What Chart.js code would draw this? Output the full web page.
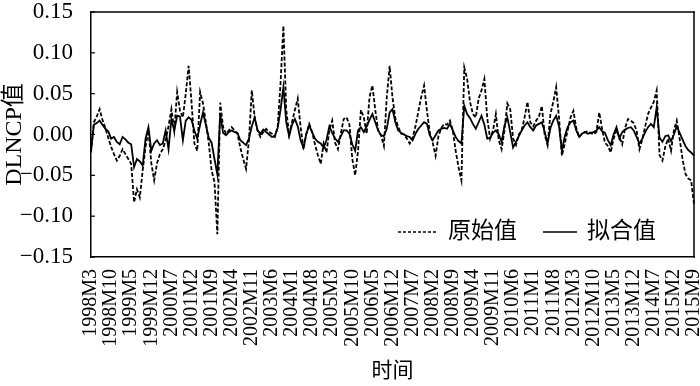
<!DOCTYPE html>
<html>
<head>
<meta charset="utf-8">
<script src="https://cdn.jsdelivr.net/npm/chart.js@4.4.1/dist/chart.umd.min.js"></script>
<style>
  html, body { margin: 0; padding: 0; background: #fff; }
  canvas { display: block; }
</style>
</head>
<body>
<canvas id="chartDLNCP" width="700" height="386"></canvas>
<script>
// months 1998M3 .. 2015M9 (211 obs), a label every 7 months
const months = [];
for (let y = 1998, m = 3; y < 2015 || (y === 2015 && m <= 9); m++) {
    if (m > 12) { m = 1; y++; }
    months.push(y + "M" + m);
}

// 原始值 (dashed)
const original = [
    -0.022, 0.015, 0.022, 0.031, 0.018, 0.008, -0.004, -0.015, -0.024, -0.032,
    -0.026, -0.018, -0.024, -0.030, -0.036, -0.083, -0.067, -0.077, -0.044, -0.015,
    0.005, -0.035, -0.056, -0.035, -0.024, -0.018, -0.007, 0.010, 0.031, 0.005,
    0.052, 0.029, 0.021, 0.050, 0.084, 0.040, -0.011, -0.020, 0.052, 0.038,
    0.015, -0.010, -0.044, -0.058, -0.122, 0.039, 0.009, 0.001, 0.005, 0.009,
    0.005, 0.001, -0.016, -0.030, -0.042, -0.007, 0.054, 0.021, 0.005, -0.003,
    0.003, 0.007, 0.003, 0.001, -0.003, 0.009, 0.062, 0.133, 0.030, 0.000,
    0.015, 0.030, 0.044, 0.009, -0.018, 0.001, 0.013, 0.003, -0.012, -0.025,
    -0.036, -0.011, -0.022, 0.005, 0.017, -0.010, -0.018, 0.001, 0.019, 0.021,
    0.012, -0.030, -0.050, -0.020, 0.030, 0.021, 0.001, 0.046, 0.060, 0.030,
    0.005, -0.001, -0.014, 0.045, 0.084, 0.045, 0.020, 0.009, 0.001, 0.000,
    -0.005, -0.011, -0.004, 0.010, 0.028, 0.046, 0.060, 0.029, 0.002, -0.010,
    -0.026, -0.002, 0.008, 0.013, 0.012, 0.017, 0.005, -0.020, -0.040, -0.056,
    0.082, 0.068, 0.040, 0.025, 0.021, 0.044, 0.054, 0.068, 0.020, -0.005,
    0.005, 0.025, -0.007, -0.018, 0.005, 0.038, 0.031, -0.005, -0.013, 0.000,
    0.005, 0.021, 0.040, 0.015, 0.010, 0.017, 0.022, 0.035, 0.000, -0.013,
    0.025, 0.040, 0.058, 0.020, -0.026, -0.011, 0.005, 0.021, 0.029, 0.008,
    -0.003, 0.001, 0.003, 0.004, 0.002, 0.000, 0.003, 0.027, 0.007, -0.010,
    -0.014, -0.022, -0.005, 0.005, -0.003, -0.012, 0.008, 0.019, 0.017, 0.014,
    0.005, -0.018, -0.006, 0.010, 0.025, 0.033, 0.040, 0.054, -0.025, -0.032,
    -0.015, -0.005, -0.020, 0.005, 0.017, -0.005, -0.030, -0.048, -0.054, -0.056,
    -0.085
];

// 拟合值 (solid)
const fitted = [
    -0.020, 0.012, 0.014, 0.017, 0.012, 0.007, 0.004, -0.005, -0.003, -0.009,
    -0.012, -0.003, -0.006, -0.010, -0.012, -0.040, -0.030, -0.033, -0.038, -0.005,
    0.009, -0.020, -0.011, -0.007, -0.013, -0.011, 0.005, -0.018, 0.019, 0.005,
    0.023, 0.022, -0.007, 0.017, 0.021, 0.018, 0.005, -0.005, 0.012, 0.027,
    0.012, -0.004, -0.010, -0.030, -0.049, 0.025, 0.002, -0.001, 0.003, 0.005,
    0.003, 0.002, -0.007, -0.010, -0.013, -0.005, 0.010, 0.021, 0.005, 0.001,
    0.006, 0.003, 0.000, -0.003, -0.002, 0.008, 0.030, 0.058, 0.015, -0.002,
    0.012, 0.019, 0.010, -0.007, -0.016, 0.001, 0.011, 0.003, -0.005, -0.009,
    -0.011, -0.016, -0.007, 0.010, 0.002, -0.005, -0.009, -0.002, 0.005, 0.005,
    0.001, -0.012, -0.020, 0.005, 0.009, 0.003, 0.010, 0.018, 0.025, 0.015,
    0.005, -0.001, -0.002, 0.007, 0.027, 0.031, 0.015, 0.005, 0.002, 0.000,
    -0.002, -0.003, -0.007, 0.001, 0.007, 0.011, 0.015, 0.013, -0.001, -0.007,
    -0.001, 0.005, 0.007, 0.008, 0.007, 0.013, 0.005, -0.003, -0.008, -0.011,
    0.035, 0.025, 0.020, 0.013, 0.007, 0.015, 0.023, 0.012, -0.005, -0.004,
    0.002, 0.005, 0.000, -0.009, 0.011, 0.021, 0.003, -0.016, -0.009, -0.002,
    0.005, 0.011, 0.015, 0.009, 0.005, 0.011, 0.013, 0.015, 0.003, -0.011,
    0.008, 0.017, 0.023, 0.010, -0.020, -0.002, 0.009, 0.015, 0.017, 0.005,
    -0.003, 0.001, 0.003, 0.001, 0.002, 0.003, 0.005, 0.009, 0.004, 0.002,
    -0.007, -0.013, 0.000, 0.009, -0.005, 0.003, 0.006, 0.008, 0.009, 0.005,
    -0.003, -0.011, -0.005, 0.003, 0.009, 0.013, 0.009, 0.033, -0.004, -0.009,
    -0.002, -0.001, -0.008, 0.000, 0.010, 0.002, -0.006, -0.014, -0.019, -0.022,
    -0.026
];

const seriesNames = ["原始值", "拟合值"];
const yTicks = [-0.15, -0.10, -0.05, 0.00, 0.05, 0.10, 0.15];
const labelStep = 7;

const serif = '"Liberation Serif", "Times New Roman", "Noto Sans CJK SC", serif';

// top/right frame, inward y ticks, legend inside the plot
const framePlugin = {
    id: "frame",
    afterDraw(chart) {
        const ctx = chart.ctx;
        const a = chart.chartArea;
        const ys = chart.scales.y;
        ctx.save();
        ctx.fillStyle = "#000";
        ctx.fillRect(a.left - 0.75, a.top - 0.75, a.right - a.left + 1.5, 1.5);
        ctx.fillRect(a.right - 0.75, a.top - 0.75, 1.5, a.bottom - a.top + 1.5);
        yTicks.forEach(v => {
            const py = ys.getPixelForValue(v);
            ctx.fillRect(a.left, py - 0.6, 4, 1.2);
        });

        // legend
        const ly = a.bottom - 25;
        ctx.strokeStyle = "#000";
        ctx.lineWidth = 1.4;
        ctx.setLineDash([3, 2]);
        ctx.beginPath();
        ctx.moveTo(a.right - 296, ly);
        ctx.lineTo(a.right - 256, ly);
        ctx.stroke();
        ctx.setLineDash([]);
        ctx.beginPath();
        ctx.moveTo(a.right - 151, ly);
        ctx.lineTo(a.right - 117, ly);
        ctx.stroke();
        ctx.font = "23px " + serif;
        ctx.textBaseline = "middle";
        ctx.fillText(seriesNames[0], a.right - 246, ly);
        ctx.fillText(seriesNames[1], a.right - 107, ly);
        ctx.restore();
    }
};

new Chart(document.getElementById("chartDLNCP"), {
    type: "line",
    data: {
        labels: months,
        datasets: [
            {
                label: seriesNames[1],
                data: fitted,
                borderColor: "#000",
                borderWidth: 1.8,
                pointRadius: 0,
                tension: 0
            },
            {
                label: seriesNames[0],
                data: original,
                borderColor: "#000",
                borderWidth: 1.8,
                borderDash: [4, 2],
                pointRadius: 0,
                tension: 0
            }
        ]
    },
    options: {
        responsive: false,
        animation: false,
        layout: { padding: { top: 12, right: 6, bottom: 2, left: 0 } },
        plugins: { legend: { display: false }, tooltip: { enabled: false } },
        scales: {
            x: {
                grid: { display: false },
                border: { display: true, color: "#000", width: 1.5 },
                afterBuildTicks: scale => {
                    scale.ticks = scale.ticks.filter((t, i) => i % labelStep === 0);
                },
                afterFit: scale => {
                    scale.paddingLeft = 0;
                    scale.paddingRight = 0;
                },
                ticks: {
                    autoSkip: false,
                    maxRotation: 90,
                    minRotation: 90,
                    padding: 4,
                    color: "#000",
                    font: { family: serif, size: 20 }
                },
                title: {
                    display: true,
                    text: "时间",
                    color: "#000",
                    font: { family: serif, size: 21 },
                    padding: { top: 8, bottom: 0 }
                }
            },
            y: {
                min: -0.15,
                max: 0.15,
                afterBuildTicks: scale => {
                    scale.ticks = yTicks.map(v => ({ value: v }));
                },
                afterFit: scale => {
                    scale.width = 91;
                    scale.paddingTop = 0;
                    scale.paddingBottom = 0;
                },
                grid: { display: false },
                border: { display: true, color: "#000", width: 1.5 },
                ticks: {
                    padding: 10,
                    color: "#000",
                    font: { family: serif, size: 23 },
                    callback: v => Math.abs(v) < 1e-9 ? "0.00" : (v < 0 ? "\u2212" : "") + Math.abs(v).toFixed(2)
                },
                title: {
                    display: true,
                    text: "DLNCP值",
                    color: "#000",
                    font: { family: serif, size: 24 },
                    padding: { top: 0, bottom: 0 }
                }
            }
        }
    },
    plugins: [framePlugin]
});
</script>
</body>
</html>
